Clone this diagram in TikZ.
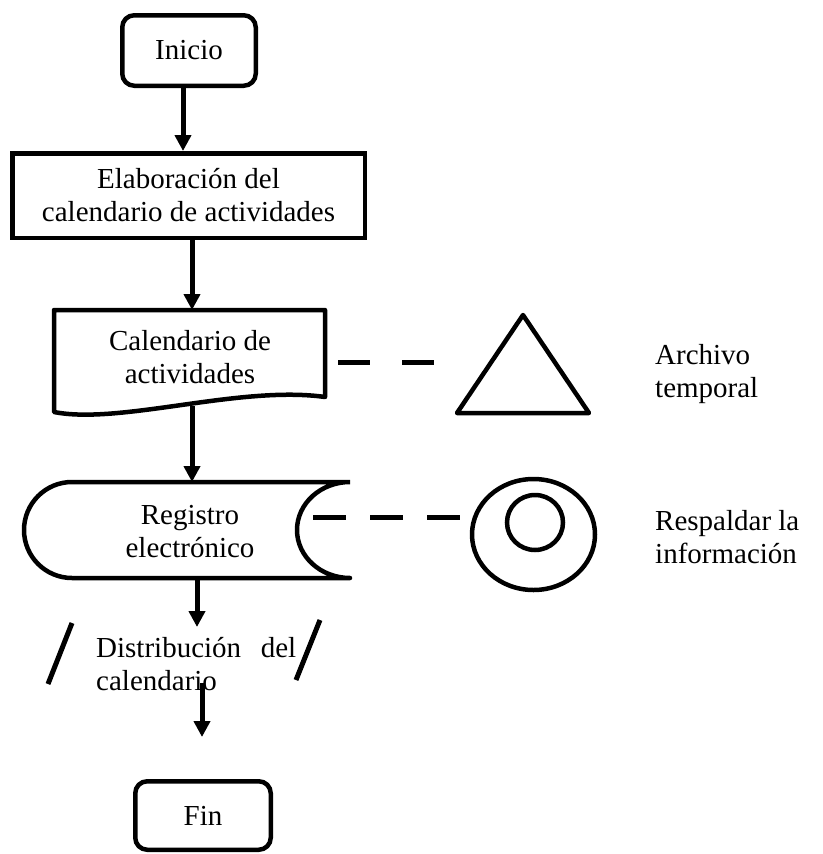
\documentclass[tikz,border=0pt]{standalone}
\usepackage{fontspec}
\setmainfont{Liberation Serif}
\usetikzlibrary{arrows.meta,shapes.geometric}
\begin{document}
\begin{tikzpicture}[x=1pt,y=1pt,
  font=\fontsize{29}{33}\selectfont,
  box/.style={draw, line width=4.5pt, inner sep=0pt, align=center},
  term/.style={box, rounded corners=12pt},
  label/.style={inner sep=0pt, align=center},
  sidelabel/.style={inner sep=0pt, anchor=west, align=left},
  arr/.style={line width=5pt, -{Triangle[width=16pt,length=16pt]}},
  outline/.style={line width=4.5pt, line join=round},
  dashline/.style={line width=5pt},
  slash/.style={line width=5pt}]
\useasboundingbox (0,0) rectangle (822,-854);

% start / process
\node[term, minimum width=133.5pt, minimum height=70.5pt] (inicio) at (189,-50.5) {Inicio};
\node[box, minimum width=352.5pt, minimum height=84.5pt] (elab) at (188.5,-195.5)
  {Elaboración del\\calendario de actividades};

% document symbol
\draw[outline] (54,-412) -- (54,-310) -- (325,-310) -- (325,-397)
  .. controls (240,-385) and (120,-425) .. (54,-412) -- cycle;
\node[label] (doc) at (190,-357) {Calendario de\\actividades};
\coordinate (doctop) at (192,-310);
\coordinate (docbot) at (192,-406);
\coordinate (docright) at (338,-362);

% stored data symbol
\draw[outline] (350,-482) -- (72,-482) arc[start angle=90, end angle=270, radius=48]
  -- (350,-578) arc[start angle=-90, end angle=-270, x radius=53, y radius=48];
\node[label] (sto) at (190,-532) {Registro\\electrónico};
\coordinate (stotop) at (192,-482);
\coordinate (stobot) at (197,-578);
\coordinate (stoinner) at (313,-517);

% temporary file
\draw[outline] (523,-315) -- (589,-413) -- (457,-413) -- cycle;
\coordinate (trileft) at (434,-362);
\node[sidelabel] (archivo) at (655,-374) {Archivo\\temporal};

% backup disk
\node[draw, ellipse, line width=4.5pt, minimum width=123pt, minimum height=111pt] (disk) at (533.5,-534.5) {};
\node[draw, ellipse, line width=4.5pt, minimum width=56pt, minimum height=55pt] (diskin) at (535,-522.5) {};
\coordinate (diskleft) at (460,-517);
\node[sidelabel] (respaldo) at (655,-537) {Respaldar la\\información};

% distribution (input/output)
\draw[slash] (72,-623) -- (48,-684);
\draw[slash] (320,-620) -- (296,-680);
\node[inner sep=0pt, anchor=west, text width=200pt, align=left] (dist) at (96,-664)
  {Distribución\hfill del\\calendario};
\coordinate (distin) at (197,-627);
\coordinate (distout) at (202,-683);
\coordinate (finin) at (202,-737);

% end
\node[term, minimum width=135.5pt, minimum height=68.5pt] (fin) at (203,-815.5) {Fin};

% connectors
\draw[arr] ([xshift=-6pt]inicio.south) -- ([xshift=-5.5pt]elab.north);
\draw[arr] ([xshift=3.5pt]elab.south) -- (doctop);
\draw[arr] (docbot) -- (stotop);
\draw[arr] (stobot) -- (distin);
\draw[arr] (distout) -- (finin);
\draw[dashline, dash pattern=on 32pt off 32pt] (docright) -- (trileft);
\draw[dashline, dash pattern=on 33pt off 24pt] (stoinner) -- (diskleft);
\end{tikzpicture}
\end{document}
